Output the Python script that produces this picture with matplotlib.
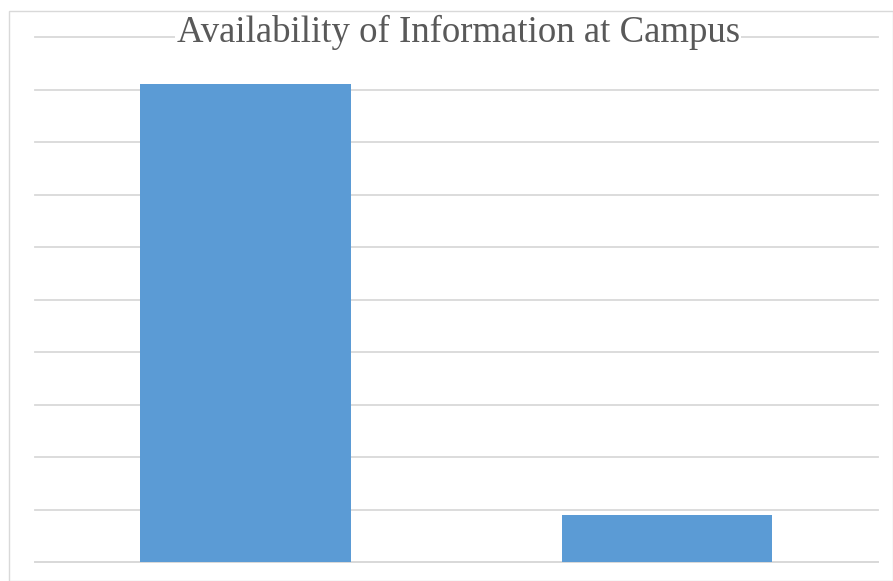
import matplotlib.pyplot as plt
from matplotlib.patches import Rectangle

# Datos (eje 0-100, sin etiquetas visibles)
categorias = ['Yes', 'No']
valores = [91, 9]

fig = plt.figure(figsize=(8.93, 5.81), dpi=100)
ax = fig.add_axes([0.0392, 0.0327, 0.9438, 0.9036])

ax.bar(range(len(categorias)), valores, width=0.5, color='#5B9BD5', zorder=3)

ax.set_xlim(-0.5, 1.5)
ax.set_ylim(0, 100)
ax.set_yticks(range(0, 101, 10))
ax.grid(axis='y', color='#D9D9D9', linewidth=1.3, zorder=0)
for linea in ax.get_ygridlines():
    linea.set_clip_on(False)
ax.tick_params(left=False, bottom=False, labelleft=False, labelbottom=False)
for s in ['top', 'right', 'left']:
    ax.spines[s].set_visible(False)
ax.spines['bottom'].set_color('#D9D9D9')
ax.spines['bottom'].set_linewidth(1.3)

ax.text(0.502, 1.008, 'Availability of Information at Campus', transform=ax.transAxes,
        ha='center', va='center', fontsize=26.5, family='Liberation Serif', color='#595959',
        bbox=dict(facecolor='white', edgecolor='none', pad=1), zorder=5)

# Marco del gráfico
fig.patches.append(Rectangle((9 / 893, 0), 1 - 9 / 893, 1 - 11 / 581, transform=fig.transFigure,
                             fill=False, edgecolor='#D9D9D9', linewidth=1))

fig.savefig('out.png', dpi=100)
